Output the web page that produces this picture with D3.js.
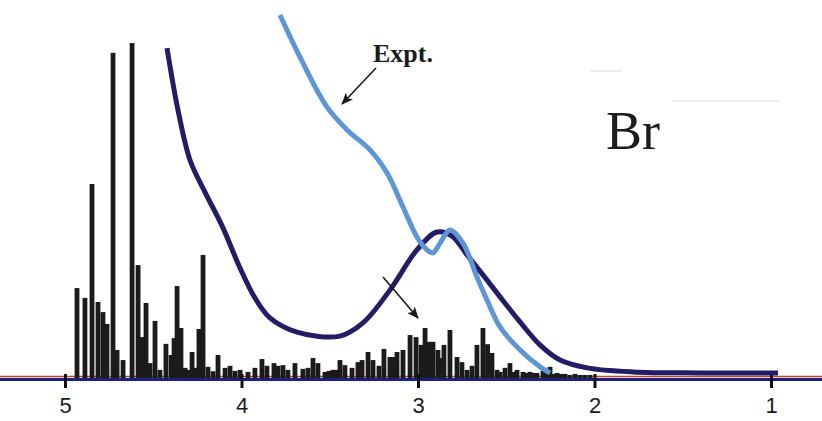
<!DOCTYPE html>
<html>
<head>
<meta charset="utf-8">
<script src="https://cdn.jsdelivr.net/npm/d3@7"></script>
<style>
  html, body { margin: 0; padding: 0; background: #ffffff; }
  svg { display: block; }
</style>
</head>
<body>
<svg id="chart" width="822" height="421"></svg>
<script>
// Energy axis ticks (eV, decreasing to the right)
const tickValues = [5, 4, 3, 2, 1];

// Calculated transition lines: energy (eV) and relative intensity
const stickEnergy = [
  4.932, 4.887, 4.847, 4.813, 4.785, 4.762, 4.728, 4.705, 4.671, 4.620,
  4.586, 4.564, 4.541, 4.518, 4.490, 4.462, 4.428, 4.399, 4.382, 4.365,
  4.343, 4.320, 4.303, 4.280, 4.263, 4.241, 4.218, 4.190, 4.161, 4.133,
  4.093, 4.065, 4.037, 4.008, 3.963, 3.924, 3.884, 3.856, 3.816, 3.793,
  3.765, 3.737, 3.697, 3.652, 3.623, 3.595, 3.567, 3.527, 3.504, 3.482,
  3.459, 3.442, 3.414, 3.374, 3.340, 3.317, 3.283, 3.255, 3.221, 3.193,
  3.159, 3.142, 3.119, 3.085, 3.045, 3.011, 2.983, 2.960, 2.938, 2.915,
  2.887, 2.864, 2.853, 2.819, 2.779, 2.751, 2.722, 2.694, 2.666, 2.632,
  2.606, 2.581, 2.552, 2.535, 2.507, 2.479, 2.462, 2.439, 2.405, 2.382,
  2.365, 2.348, 2.326, 2.292, 2.269, 2.252, 2.235, 2.212, 2.190, 2.167,
  2.139, 2.110, 2.082, 2.054, 2.025
];
const stickIntensity = [
  26.6, 23.7, 57.4, 22.5, 19.5, 16.0, 96.2, 8.3, 5.3, 99.1,
  33.4, 12.1, 22.2, 4.4, 16.9, 2.4, 10.1, 6.8, 11.8, 27.2,
  14.8, 3.0, 2.4, 7.7, 3.0, 14.5, 36.4, 3.3, 2.0, 6.8,
  3.0, 3.6, 2.1, 2.4, 1.8, 3.0, 5.6, 3.6, 4.4, 3.6,
  3.8, 2.4, 4.4, 2.7, 3.0, 5.9, 4.4, 1.8, 2.1, 2.4,
  2.4, 5.3, 3.8, 3.0, 4.7, 5.3, 7.7, 5.3, 3.6, 8.6,
  6.2, 6.2, 7.7, 8.3, 12.7, 12.1, 9.8, 14.8, 10.7, 10.7,
  8.3, 5.9, 9.8, 14.2, 6.2, 4.7, 2.4, 3.6, 9.8, 14.8,
  10.0, 7.4, 2.4, 1.8, 3.0, 4.4, 1.8, 2.4, 1.8, 1.5,
  1.8, 1.5, 1.5, 2.1, 1.5, 3.3, 1.2, 1.5, 1.2, 1.2,
  0.9, 1.2, 0.9, 0.9, 0.9
];

// Broadened theoretical spectrum
const calcEnergy = [
  4.422, 4.360, 4.292, 4.207, 4.110, 4.008, 3.924, 3.839, 3.686, 3.442,
  3.312, 3.159, 3.006, 2.892, 2.807, 2.722, 2.632, 2.535, 2.422, 2.309,
  2.195, 2.042, 1.782, 1.402, 0.960
];
const calcIntensity = [
  97.6, 79.3, 64.5, 55.0, 45.0, 32.5, 23.7, 17.8, 13.6, 12.4,
  16.3, 26.0, 37.9, 43.2, 42.0, 36.4, 30.5, 24.0, 16.6, 9.8,
  5.3, 3.0, 1.8, 1.5, 1.5
];

// Measured spectrum (Expt.)
const exptEnergy = [
  3.782, 3.669, 3.516, 3.402, 3.272, 3.176, 3.085, 3.006, 2.949, 2.915,
  2.875, 2.819, 2.745, 2.666, 2.609, 2.535, 2.439, 2.309, 2.252
];
const exptIntensity = [
  107.4, 95.0, 80.2, 73.4, 67.5, 60.7, 50.6, 41.7, 37.9, 37.0,
  39.9, 43.8, 39.9, 29.9, 23.1, 15.1, 9.2, 3.3, 1.5
];

const svg = d3.select("#chart");
const W = 822;

const x = d3.scaleLinear().domain([5, 1]).range([65, 771]);
const y = d3.scaleLinear().domain([0, 100]).range([378, 40]);

// faint marks near the label
svg.append("line").attr("x1", 590).attr("x2", 622).attr("y1", 71).attr("y2", 71)
  .attr("stroke", "#ececec").attr("stroke-width", 2);
svg.append("line").attr("x1", 672).attr("x2", 780).attr("y1", 101).attr("y2", 101)
  .attr("stroke", "#efefef").attr("stroke-width", 2);

// baseline: red rule above a navy rule, across the whole width
svg.append("line").attr("x1", 0).attr("x2", W).attr("y1", 376.5).attr("y2", 376.5)
  .attr("stroke", "#b8452c").attr("stroke-width", 1.5);
svg.append("line").attr("x1", 0).attr("x2", W).attr("y1", 379.5).attr("y2", 379.5)
  .attr("stroke", "#1d2080").attr("stroke-width", 3);

// stick spectrum
const sticks = stickEnergy.map((e, i) => ({ e, v: stickIntensity[i] }));
svg.append("g")
  .selectAll("rect")
  .data(sticks)
  .join("rect")
  .attr("x", d => x(d.e) - 2.4)
  .attr("width", 4.8)
  .attr("y", d => y(d.v))
  .attr("height", d => y(0) - y(d.v))
  .attr("fill", "#1b1b1b");

// axis with ticks
const axis = d3.axisBottom(x)
  .tickValues(tickValues)
  .tickFormat(d3.format("d"))
  .tickSize(14)
  .tickPadding(9);
const gAxis = svg.append("g").attr("transform", "translate(0,374)").call(axis);
gAxis.select(".domain").remove();
gAxis.selectAll(".tick line").attr("stroke", "#111").attr("stroke-width", 3);
gAxis.selectAll(".tick text")
  .attr("fill", "#1a1a1a")
  .style("font-family", "'Liberation Sans', Arial, sans-serif")
  .style("font-size", "22px");

const line = d3.line()
  .x(d => x(d.e))
  .y(d => y(d.v))
  .curve(d3.curveCatmullRom.alpha(0.5));

const calc = calcEnergy.map((e, i) => ({ e, v: calcIntensity[i] }));
const expt = exptEnergy.map((e, i) => ({ e, v: exptIntensity[i] }));

svg.append("path").datum(calc)
  .attr("d", line)
  .attr("fill", "none")
  .attr("stroke", "#221d66")
  .attr("stroke-width", 5)
  .attr("stroke-linejoin", "round");

svg.append("path").datum(expt)
  .attr("d", line)
  .attr("fill", "none")
  .attr("stroke", "#5e95d4")
  .attr("stroke-width", 5)
  .attr("stroke-linejoin", "round");

// arrowheads
const defs = svg.append("defs");
defs.append("marker")
  .attr("id", "head")
  .attr("viewBox", "0 0 12 10")
  .attr("refX", 11).attr("refY", 5)
  .attr("markerWidth", 12).attr("markerHeight", 10)
  .attr("markerUnits", "userSpaceOnUse")
  .attr("orient", "auto")
  .append("path")
  .attr("d", "M0,0 L12,5 L0,10 L3,5 Z")
  .attr("fill", "#1a1a1a");

// label for the measured curve
svg.append("text")
  .attr("x", 373).attr("y", 62)
  .style("font-family", "'Liberation Serif', 'Times New Roman', serif")
  .style("font-weight", "bold")
  .style("font-size", "26px")
  .attr("fill", "#1a1a1a")
  .text("Expt.");
svg.append("line")
  .attr("x1", 376).attr("y1", 68).attr("x2", 342).attr("y2", 104)
  .attr("stroke", "#1a1a1a").attr("stroke-width", 1.6)
  .attr("marker-end", "url(#head)");

// arrow pointing at the stick manifold
svg.append("line")
  .attr("x1", 383).attr("y1", 277).attr("x2", 418).attr("y2", 318)
  .attr("stroke", "#1a1a1a").attr("stroke-width", 1.6)
  .attr("marker-end", "url(#head)");

// element label
svg.append("text")
  .attr("x", 606).attr("y", 149)
  .style("font-family", "'Liberation Serif', 'Times New Roman', serif")
  .style("font-size", "54px")
  .attr("fill", "#1c1c1c")
  .text("Br");
</script>
</body>
</html>
